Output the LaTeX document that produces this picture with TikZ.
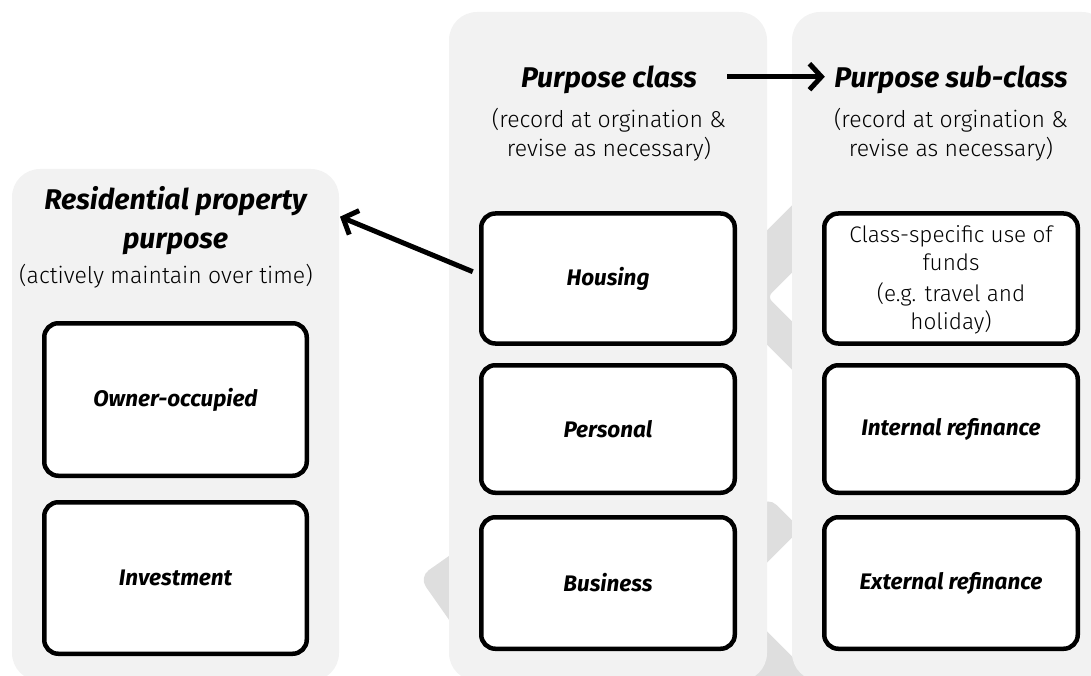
\documentclass[tikz,border=0pt]{standalone}
\usepackage{fontspec}
\setmainfont{Fira Sans}
\newfontfamily\lightfont{Fira Sans Light}
\usetikzlibrary{arrows.meta}
\definecolor{colbg}{HTML}{F2F2F2}
\definecolor{chev}{HTML}{DEDEDE}
\tikzset{
  column/.style={fill=colbg, draw=none, rounded corners=28pt},
  chevshape/.style={fill=chev, draw=none, rounded corners=10pt},
  itembox/.style={draw=black, line width=4.5pt, fill=white, rounded corners=14pt,
    minimum width=253.5pt, minimum height=130pt, inner sep=0pt, align=center,
    font=\fontsize{22.5}{27}\selectfont\bfseries\itshape},
  plainbox/.style={itembox, font=\fontsize{22.5}{28.5}\selectfont\lightfont},
  coltitle/.style={font=\fontsize{28.5}{38.6}\selectfont\bfseries\itshape, align=center, anchor=base},
  colsub/.style={font=\fontsize{23}{28.7}\selectfont\lightfont, align=center, anchor=base},
  arr/.style={line width=5pt, -{Straight Barb[length=12pt,width=26pt]}},
}
\begin{document}
\begin{tikzpicture}[x=1pt,y=-1pt]
\useasboundingbox (0,0) rectangle (1091,676);
% background chevron fragments
\fill[chevshape, rounded corners=6pt] (796,201.3) -- (796,268.5) -- (767.5,297) -- (796,325.5) -- (796,373.7) -- (709.8,287.5) -- cycle;
\fill[chevshape, rounded corners=12pt] (768,496.5) -- (800.7,529) -- (740,589.7) -- (707.5,557) -- cycle;
\fill[chevshape] (755,619.4) -- (830,694.4) -- (700,720) -- cycle;
\fill[chevshape, rounded corners=12pt] (419,577) -- (476.3,536.8) -- (516.5,594.1) -- (459.2,634.3) -- cycle;
% columns
\fill[column] (12,169) rectangle (339,681);
\fill[column] (449,12) rectangle (767,681);
\fill[column] (792,12) rectangle (1110,681);
% titles
\node[coltitle] (rpp) at (175.5,248.6) {Residential property\\purpose};
\node[colsub] (rppsub) at (166,283) {(actively maintain over time)};
\node[coltitle] (pc) at (609,88) {Purpose class};
\node[colsub] (pcsub) at (609,156.7) {(record at orgination \&\\revise as necessary)};
\node[coltitle] (psc) at (951,88) {Purpose sub-class};
\node[colsub] (pscsub) at (951,156.7) {(record at orgination \&\\revise as necessary)};
% boxes
\node[itembox, minimum width=262.5pt, minimum height=152.5pt] (owner) at (175.5,399.5) {Owner-occupied};
\node[itembox, minimum width=262.5pt, minimum height=151.5pt] (invest) at (175.5,578) {Investment};
\node[itembox] (housing) at (608,278.5) {Housing};
\node[itembox, minimum height=127.5pt] (personal) at (608,429) {Personal};
\node[itembox, minimum height=131.5pt] (business) at (608,583) {Business};
\node[plainbox] (classuse) at (951,278.5) {\strut Class-specific use of\\funds\\[2pt](e.g. travel and\\holiday)};
\node[itembox, minimum height=127.5pt] (internal) at (951,429) {Internal refinance};
\node[itembox, minimum height=131.5pt] (external) at (951,583) {External refinance};
% arrows
\coordinate (arrowy) at (0,76.7);
\coordinate (rtip) at (340,216.7);
\draw[arr] ([xshift=27pt]pc.east |- arrowy) -- ([xshift=-6pt]psc.west |- arrowy);
\draw[arr] ([xshift=-6.25pt,yshift=6.8pt]housing.west) -- (rtip);
\end{tikzpicture}
\end{document}
